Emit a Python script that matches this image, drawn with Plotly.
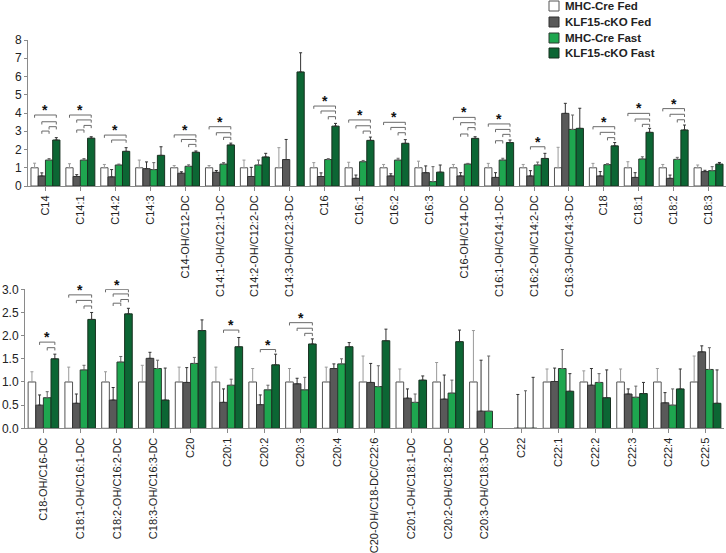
import plotly.graph_objects as go

# ---------------- data ----------------
series_names = ["MHC-Cre Fed", "KLF15-cKO Fed", "MHC-Cre Fast", "KLF15-cKO Fast"]

cats_top = ["C14", "C14:1", "C14:2", "C14:3", "C14-OH/C12-DC", "C14:1-OH/C12:1-DC",
            "C14:2-OH/C12:2-DC", "C14:3-OH/C12:3-DC", "C16", "C16:1", "C16:2", "C16:3",
            "C16-OH/C14-DC", "C16:1-OH/C14:1-DC", "C16:2-OH/C14:2-DC", "C16:3-OH/C14:3-DC",
            "C18", "C18:1", "C18:2", "C18:3"]
top_mhc_fed = [1.0] * 20
top_mhc_fed_err = [0.25, 0.22, 0.18, 0.42, 0.12, 0.12, 0.42, 1.1, 0.28, 0.3, 0.18, 0.36,
                   0.18, 0.24, 0.18, 1.12, 0.24, 0.33, 0.18, 0.15]
top_ko_fed = [0.55, 0.52, 0.5, 0.95, 0.7, 0.75, 0.52, 1.45, 0.52, 0.42, 0.55, 0.73,
              0.55, 0.47, 0.55, 3.98, 0.55, 0.47, 0.42, 0.79]
top_ko_fed_err = [0.17, 0.1, 0.4, 0.37, 0.08, 0.1, 0.5, 1.1, 0.2, 0.18, 0.12, 0.37,
                  0.18, 0.26, 0.29, 0.55, 0.24, 0.26, 0.18, 0.07]
top_mhc_fast = [1.42, 1.42, 1.15, 0.9, 1.08, 1.2, 1.15, None, 1.45, 1.33, 1.42, 0.24,
                1.2, 1.42, 1.15, 3.1, 1.17, 1.48, 1.46, 0.84]
top_mhc_fast_err = [0.08, 0.08, 0.05, 0.38, 0.08, 0.08, 0.27, 0, 0.05, 0.07, 0.1, 0.82,
                    0.04, 0.1, 0.16, 0.79, 0.05, 0.12, 0.11, 0.22]
top_ko_fast = [2.52, 2.62, 1.9, 1.68, 1.85, 2.25, 1.59, 6.25, 3.28, 2.5, 2.34, 0.76,
               2.61, 2.38, 1.51, 3.16, 2.2, 2.94, 3.07, 1.2]
top_ko_fast_err = [0.13, 0.08, 0.2, 0.47, 0.07, 0.1, 0.2, 1.05, 0.15, 0.18, 0.2, 0.39,
                   0.09, 0.14, 0.28, 1.1, 0.18, 0.22, 0.27, 0.09]

cats_bot = ["C18-OH/C16-DC", "C18:1-OH/C16:1-DC", "C18:2-OH/C16:2-DC", "C18:3-OH/C16:3-DC",
            "C20", "C20:1", "C20:2", "C20:3", "C20:4", "C20-OH/C18-DC/C22:6",
            "C20:1-OH/C18:1-DC", "C20:2-OH/C18:2-DC", "C20:3-OH/C18:3-DC", "C22",
            "C22:1", "C22:2", "C22:3", "C22:4", "C22:5"]
bot_mhc_fed = [1.0] * 13 + [None] + [1.0] * 5
bot_mhc_fed_err = [0.22, 0.32, 0.22, 0.36, 0.32, 0.32, 0.29, 0.29, 0.32, 0.56, 0.28, 0.42,
                   1.11, 0, 0.28, 0.24, 0.28, 0.29, 0.56]
bot_ko_fed = [0.5, 0.54, 0.61, 1.51, 0.99, 0.56, 0.51, 0.96, 1.29, 0.99, 0.65, 0.63, 0.37,
              0, 1.01, 0.93, 0.74, 0.55, 1.65]
bot_ko_fed_err = [0.22, 0.2, 0.27, 0.13, 0.32, 0.29, 0.21, 0.12, 0.1, 0.41, 0.2, 0.52, 1.1,
                  0.73, 0.29, 0.36, 0.11, 0.22, 0.13]
bot_mhc_fast = [0.66, 1.26, 1.43, 1.29, 1.4, 0.93, 0.83, 0.83, 1.39, 0.9, 0.56, 0.76, 0.37,
                0, 1.29, 0.99, 0.67, 0.5, 1.27]
bot_mhc_fast_err = [0.13, 0.1, 0.12, 0.18, 0.13, 0.13, 0.1, 0.27, 0.11, 0.45, 0.18, 0.28,
                    1.19, 0.81, 0.41, 0.19, 0.24, 0.35, 0.47]
bot_ko_fast = [1.5, 2.35, 2.47, 0.61, 2.11, 1.76, 1.37, 1.82, 1.76, 1.89, 1.04, 1.87, None,
               0, 0.8, 0.66, 0.75, 0.85, 0.54]
bot_ko_fast_err = [0.1, 0.15, 0.12, 0.69, 0.23, 0.2, 0.23, 0.11, 0.09, 0.25, 0.09, 0.25, 0,
                   1.1, 0.38, 0.6, 0.24, 0.43, 0.72]

# significance brackets: (category, from series index, to series index, level)
sig_top = [
    ("C14", 0, 3, 3.89), ("C14", 1, 3, 3.52), ("C14", 2, 3, 3.25), ("C14", 1, 2, 3.01),
    ("C14:1", 0, 3, 3.89), ("C14:1", 1, 3, 3.62), ("C14:1", 2, 3, 3.32), ("C14:1", 1, 2, 3.07),
    ("C14:2", 0, 3, 2.79), ("C14:2", 1, 3, 2.52),
    ("C14-OH/C12-DC", 0, 3, 2.8), ("C14-OH/C12-DC", 1, 3, 2.55), ("C14-OH/C12-DC", 2, 3, 2.28),
    ("C14:1-OH/C12:1-DC", 0, 3, 3.25), ("C14:1-OH/C12:1-DC", 1, 3, 2.92),
    ("C14:1-OH/C12:1-DC", 2, 3, 2.67),
    ("C16", 0, 3, 4.38), ("C16", 1, 3, 4.11), ("C16", 2, 3, 3.8),
    ("C16:1", 0, 3, 3.62), ("C16:1", 1, 3, 3.3), ("C16:1", 2, 3, 3.01),
    ("C16:2", 0, 3, 3.49), ("C16:2", 1, 3, 3.21), ("C16:2", 2, 3, 2.92),
    ("C16-OH/C14-DC", 0, 3, 3.76), ("C16-OH/C14-DC", 1, 3, 3.47),
    ("C16-OH/C14-DC", 2, 3, 3.2), ("C16-OH/C14-DC", 1, 2, 2.85),
    ("C16:1-OH/C14:1-DC", 0, 3, 3.4), ("C16:1-OH/C14:1-DC", 1, 3, 3.1),
    ("C16:1-OH/C14:1-DC", 2, 3, 2.83), ("C16:1-OH/C14:1-DC", 1, 2, 2.48),
    ("C16:2-OH/C14:2-DC", 1, 3, 2.15),
    ("C18", 0, 3, 3.25), ("C18", 1, 3, 2.94), ("C18", 2, 3, 2.65),
    ("C18:1", 0, 3, 3.98), ("C18:1", 1, 3, 3.67), ("C18:1", 2, 3, 3.38),
    ("C18:2", 0, 3, 4.24), ("C18:2", 1, 3, 3.93), ("C18:2", 2, 3, 3.63),
]
sig_bot = [
    ("C18-OH/C16-DC", 1, 3, 1.86), ("C18-OH/C16-DC", 2, 3, 1.74),
    ("C18:1-OH/C16:1-DC", 0, 3, 2.88), ("C18:1-OH/C16:1-DC", 1, 3, 2.76),
    ("C18:1-OH/C16:1-DC", 2, 3, 2.64),
    ("C18:2-OH/C16:2-DC", 0, 3, 2.995), ("C18:2-OH/C16:2-DC", 1, 3, 2.9),
    ("C18:2-OH/C16:2-DC", 2, 3, 2.78), ("C18:2-OH/C16:2-DC", 1, 2, 2.7),
    ("C20:1", 1, 3, 2.12),
    ("C20:2", 1, 3, 1.7),
    ("C20:3", 0, 3, 2.28), ("C20:3", 1, 3, 2.16), ("C20:3", 2, 3, 2.05),
]

# ---------------- styling ----------------
fills = ["#ffffff", "#595959", "#1ea64f", "#0c6634"]
outlines = ["#555555", "#333333", "#2b3b30", "#17301f"]
err_colors = ["#9a9a9a", "#333333", "#666666", "#333333"]
FONT = "Arial, Liberation Sans, sans-serif"
W, H = 726, 553
BARGAP = 0.17

top_vals = [top_mhc_fed, top_ko_fed, top_mhc_fast, top_ko_fast]
top_errs = [top_mhc_fed_err, top_ko_fed_err, top_mhc_fast_err, top_ko_fast_err]
bot_vals = [bot_mhc_fed, bot_ko_fed, bot_mhc_fast, bot_ko_fast]
bot_errs = [bot_mhc_fed_err, bot_ko_fed_err, bot_mhc_fast_err, bot_ko_fast_err]

fig = go.Figure()
for k in range(4):
    for cats, vals, errs, xa, ya in [(cats_top, top_vals[k], top_errs[k], "x", "y"),
                                     (cats_bot, bot_vals[k], bot_errs[k], "x2", "y2")]:
        fig.add_trace(go.Bar(
            x=cats, y=vals, name=series_names[k], xaxis=xa, yaxis=ya,
            marker=dict(color=fills[k], line=dict(color=outlines[k], width=1)),
            error_y=dict(type="data", array=errs, arrayminus=[0] * len(errs),
                         symmetric=False, color=err_colors[k], thickness=1, width=1.5),
            showlegend=False,
        ))

slot = (1 - BARGAP) / 4
offs = [-(1 - BARGAP) / 2 + slot * (i + 0.5) for i in range(4)]

shapes = []
annotations = []


def add_brackets(cats, sig, xref, yref, tick):
    tops = {}
    for cat, a, b, lvl in sig:
        i = cats.index(cat)
        x0, x1 = i + offs[a], i + offs[b]
        for (xa, ya, xb, yb) in [(x0, lvl, x1, lvl), (x0, lvl, x0, lvl - tick),
                                 (x1, lvl, x1, lvl - tick)]:
            shapes.append(dict(type="line", xref=xref, yref=yref, x0=xa, y0=ya, x1=xb, y1=yb,
                               line=dict(color="#6a6a6a", width=1)))
        if cat not in tops or lvl > tops[cat][0]:
            tops[cat] = (lvl, (x0 + x1) / 2)
    for cat, (lvl, xm) in tops.items():
        annotations.append(dict(x=xm, y=lvl, xref=xref, yref=yref, text="<b>*</b>",
                                showarrow=False, yanchor="bottom", yshift=-5,
                                font=dict(family=FONT, size=14, color="#111")))


add_brackets(cats_top, sig_top, "x", "y", 0.15)
add_brackets(cats_bot, sig_bot, "x2", "y2", 0.06)

# manual legend (top right)
leg_y = [6, 22, 38, 53]
for k in range(4):
    yc = leg_y[k]
    shapes.append(dict(type="rect", xref="paper", yref="paper",
                       x0=549 / W, x1=559 / W, y0=1 - (yc + 5) / H, y1=1 - (yc - 5) / H,
                       fillcolor=fills[k], line=dict(color=outlines[k], width=1)))
    annotations.append(dict(x=563 / W, y=1 - yc / H, xref="paper", yref="paper",
                            text="<b>" + series_names[k] + "</b>", showarrow=False,
                            xanchor="left", yanchor="middle",
                            font=dict(family=FONT, size=11.5, color="#222")))

axis_common = dict(showline=True, linecolor="#8a8a8a", linewidth=1, ticks="outside",
                   tickcolor="#8a8a8a", showgrid=False, zeroline=False, automargin=False)

fig.update_layout(
    width=W, height=H, margin=dict(l=0, r=0, t=0, b=0),
    paper_bgcolor="white", plot_bgcolor="white",
    barmode="group", bargap=BARGAP, bargroupgap=0.0,
    font=dict(family=FONT, color="#222"),
    shapes=shapes, annotations=annotations, showlegend=False,
    xaxis=dict(domain=[28 / W, 726 / W], anchor="y", type="category", tickangle=-90,
               ticklen=4, tickfont=dict(size=11), **axis_common),
    yaxis=dict(domain=[1 - 186 / H, 1 - 40 / H], anchor="x", range=[0, 8], dtick=1,
               ticklen=3, tickfont=dict(size=12), **axis_common),
    xaxis2=dict(domain=[25 / W, 724 / W], anchor="y2", type="category", tickangle=-90,
                ticklen=4, tickfont=dict(size=11), **axis_common),
    yaxis2=dict(domain=[1 - 428.3 / H, 1 - 289.3 / H], anchor="x2", range=[0, 3.0],
                dtick=0.5, tickformat=".1f", ticklen=3, tickfont=dict(size=12), **axis_common),
)

fig.write_html("out.html", config={"displayModeBar": False},
               post_script="document.body.style.margin='0';document.body.style.padding='0';"
                           "document.body.style.overflow='hidden';")
